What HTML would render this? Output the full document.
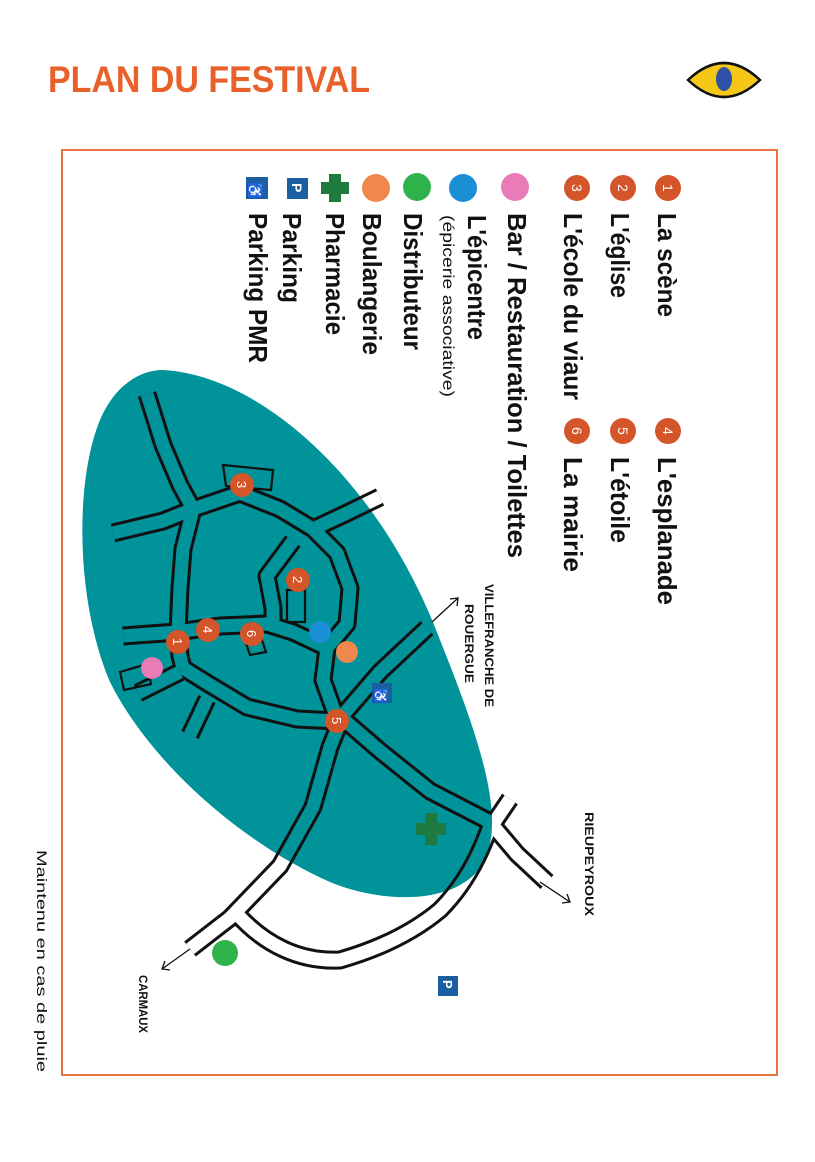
<!DOCTYPE html>
<html><head><meta charset="utf-8"><style>
html,body{margin:0;padding:0;background:#fff;}
svg{display:block;}
text{font-family:"Liberation Sans",sans-serif;}
</style></head><body>
<svg width="815" height="1162" viewBox="0 0 815 1162" xmlns="http://www.w3.org/2000/svg">
<defs>
<path id="blob" d="M163,370 C260,375 380,480 440,640 C480,740 505,815 485,860 C462,905 385,905 330,882 C240,842 150,762 110,682 C75,600 75,480 100,420 C115,385 140,370 163,370 Z"/>
<clipPath id="inside"><use href="#blob"/></clipPath>
<mask id="outside"><rect x="0" y="0" width="815" height="1162" fill="#fff"/><use href="#blob" fill="#000"/></mask>
<g id="roads" fill="none" stroke-linejoin="round" stroke-linecap="butt">
<polyline points="427,628 380,672 343,715 330,747 313,807 280,866 230,918 190,949"/>
<polyline points="343,719 380,751 430,791 490,822 517,854 547,882"/>
<polyline points="493,824 510,799"/>
<path d="M490,826 C480,855 465,885 440,910 C410,935 375,950 340,960 C300,962 265,945 237,914"/>
<polyline points="337,721 297,719 247,707 207,683 183,668"/>
<polyline points="180,672 138,693"/>
<polyline points="207,699 190,735"/>
<polyline points="113,533 163,521 193,509"/>
<polyline points="147,394 163,445 180,485 193,509"/>
<polyline points="193,509 240,493 280,509 313,529 347,513 380,497"/>
<polyline points="193,509 183,549 180,588 178,632 180,656 183,668"/>
<polyline points="313,529 337,553 350,588 347,624 327,648 323,680 337,719"/>
<polyline points="123,636 177,632 220,626 267,624 293,632 327,648"/>
<polyline points="293,541 267,576 273,608 273,624"/>
</g>
</defs>

<text x="48" y="92" font-size="37" font-weight="bold" fill="#e8602a" textLength="322" lengthAdjust="spacingAndGlyphs">PLAN DU FESTIVAL</text>
<path d="M688,80 Q724,46 760,80 Q724,114 688,80 Z" fill="#f5c818" stroke="#111" stroke-width="2.5"/>
<ellipse cx="724" cy="79" rx="8" ry="12" fill="#2f52a8"/>

<rect x="62" y="150" width="715" height="925" fill="none" stroke="#e8743f" stroke-width="2"/>

<use href="#blob" fill="#00939a"/>
<use href="#roads" stroke="#111" stroke-width="19"/>
<g clip-path="url(#inside)"><use href="#roads" stroke="#00939a" stroke-width="13"/></g>
<g mask="url(#outside)"><use href="#roads" stroke="#fff" stroke-width="13"/></g>
<g fill="none" stroke="#111" stroke-width="2.2">
<polygon points="223,465 273,470 271,490 226,486"/>
<rect x="287" y="590" width="18" height="32"/>
<polygon points="120,672 147,664 151,684 124,690"/>
<polygon points="245,640 262,640 266,652 250,655"/>
</g>

<g stroke="#111" stroke-width="1.3" fill="none">
<line x1="432" y1="622" x2="458" y2="598"/><polyline points="450,599 458,598 457,606"/>
<line x1="540" y1="882" x2="570" y2="902"/><polyline points="562,903 570,902 567,894"/>
<line x1="190" y1="949" x2="162" y2="969"/><polyline points="165,961 162,969 170,970"/>
</g>

<circle cx="152" cy="668" r="11" fill="#e97bb7"/>
<circle cx="320" cy="632" r="11" fill="#1a8fd6"/>
<circle cx="347" cy="652" r="11" fill="#f0884d"/>
<circle cx="225" cy="953" r="13" fill="#2db34a"/>
<g fill="#1f7a3f"><rect x="416" y="823" width="30" height="12"/><rect x="425" y="813" width="12" height="32"/></g>
<rect x="372" y="683" width="20" height="20" fill="#1b5fa0"/><text transform="translate(376,688) rotate(90)" font-size="13" fill="#fff">♿</text>
<rect x="438" y="976" width="20" height="20" fill="#1b5fa0"/><text transform="translate(443,980) rotate(90)" font-size="13" font-weight="bold" fill="#fff">P</text>

<g fill="#d4552a">
<circle cx="242" cy="485" r="12"/><circle cx="298" cy="580" r="12"/><circle cx="208" cy="630" r="12"/>
<circle cx="252" cy="634" r="12"/><circle cx="178" cy="642" r="12"/><circle cx="337" cy="721" r="12"/>
</g>
<g fill="#fff" font-size="13">
<text transform="translate(237,481) rotate(90)">3</text>
<text transform="translate(293,576) rotate(90)">2</text>
<text transform="translate(203,626) rotate(90)">4</text>
<text transform="translate(247,630) rotate(90)">6</text>
<text transform="translate(173,638) rotate(90)">1</text>
<text transform="translate(332,717) rotate(90)">5</text>
</g>

<g font-size="12" font-weight="bold" fill="#111">
<text transform="translate(485,584) rotate(90)" textLength="123" lengthAdjust="spacingAndGlyphs">VILLEFRANCHE DE</text>
<text transform="translate(465,604) rotate(90)" textLength="79" lengthAdjust="spacingAndGlyphs">ROUERGUE</text>
<text transform="translate(585,812) rotate(90)" textLength="104" lengthAdjust="spacingAndGlyphs">RIEUPEYROUX</text>
<text transform="translate(139,975) rotate(90)" textLength="58" lengthAdjust="spacingAndGlyphs">CARMAUX</text>
</g>
<text transform="translate(37,850) rotate(90)" font-size="14" fill="#111" textLength="222" lengthAdjust="spacingAndGlyphs">Maintenu en cas de pluie</text>

<g fill="#d4552a">
<circle cx="668" cy="188" r="13"/><circle cx="623" cy="188" r="13"/><circle cx="577" cy="188" r="13"/>
<circle cx="668" cy="431" r="13"/><circle cx="623" cy="431" r="13"/><circle cx="577" cy="431" r="13"/>
</g>
<g fill="#fff" font-size="14">
<text transform="translate(663,184) rotate(90)">1</text>
<text transform="translate(618,184) rotate(90)">2</text>
<text transform="translate(572,184) rotate(90)">3</text>
<text transform="translate(663,427) rotate(90)">4</text>
<text transform="translate(618,427) rotate(90)">5</text>
<text transform="translate(572,427) rotate(90)">6</text>
</g>
<circle cx="515" cy="187" r="14" fill="#e97bb7"/>
<circle cx="463" cy="188" r="14" fill="#1a8fd6"/>
<circle cx="417" cy="187" r="14" fill="#2db34a"/>
<circle cx="376" cy="188" r="14" fill="#f0884d"/>
<g fill="#1f7a3f"><rect x="321" y="182" width="28" height="12"/><rect x="329" y="174" width="12" height="28"/></g>
<rect x="287" y="178" width="21" height="21" fill="#1b5fa0"/><text transform="translate(292,183) rotate(90)" font-size="14" font-weight="bold" fill="#fff">P</text>
<rect x="246" y="177" width="22" height="22" fill="#1b5fa0"/><text transform="translate(250,182) rotate(90)" font-size="14" fill="#fff">♿</text>

<g font-size="26" font-weight="bold" fill="#111">
<text transform="translate(658,213) rotate(90)" textLength="104" lengthAdjust="spacingAndGlyphs">La scène</text>
<text transform="translate(611,213) rotate(90)" textLength="85" lengthAdjust="spacingAndGlyphs">L'église</text>
<text transform="translate(564,213) rotate(90)" textLength="187" lengthAdjust="spacingAndGlyphs">L'école du viaur</text>
<text transform="translate(508,213) rotate(90)" textLength="345" lengthAdjust="spacingAndGlyphs">Bar / Restauration / Toilettes</text>
<text transform="translate(468,215) rotate(90)" textLength="125" lengthAdjust="spacingAndGlyphs">L'épicentre</text>
<text transform="translate(404,213) rotate(90)" textLength="137" lengthAdjust="spacingAndGlyphs">Distributeur</text>
<text transform="translate(363,213) rotate(90)" textLength="142" lengthAdjust="spacingAndGlyphs">Boulangerie</text>
<text transform="translate(326,213) rotate(90)" textLength="122" lengthAdjust="spacingAndGlyphs">Pharmacie</text>
<text transform="translate(283,213) rotate(90)" textLength="90" lengthAdjust="spacingAndGlyphs">Parking</text>
<text transform="translate(249,213) rotate(90)" textLength="150" lengthAdjust="spacingAndGlyphs">Parking PMR</text>
<text transform="translate(658,457) rotate(90)" textLength="148" lengthAdjust="spacingAndGlyphs">L'esplanade</text>
<text transform="translate(611,457) rotate(90)" textLength="86" lengthAdjust="spacingAndGlyphs">L'étoile</text>
<text transform="translate(564,457) rotate(90)" textLength="115" lengthAdjust="spacingAndGlyphs">La mairie</text>
</g>
<text transform="translate(443,215) rotate(90)" font-size="16" fill="#111" textLength="182" lengthAdjust="spacingAndGlyphs">(épicerie associative)</text>
</svg>
</body></html>
